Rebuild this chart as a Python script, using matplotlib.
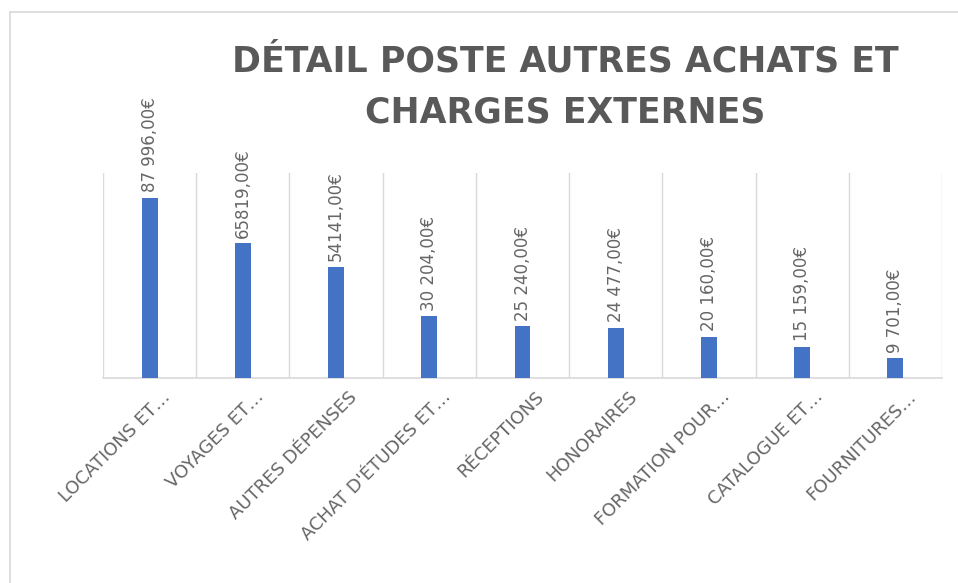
import matplotlib
matplotlib.use("Agg")
import matplotlib.pyplot as plt
from matplotlib.lines import Line2D
from matplotlib.transforms import ScaledTranslation

categories = ["LOCATIONS ET…", "VOYAGES ET…", "AUTRES DÉPENSES", "ACHAT D'ÉTUDES ET…",
              "RÉCEPTIONS", "HONORAIRES", "FORMATION POUR…", "CATALOGUE ET…", "FOURNITURES…"]
values = [87996, 65819, 54141, 30204, 25240, 24477, 20160, 15159, 9701]
value_labels = ["87 996,00€", "65819,00€", "54141,00€", "30 204,00€", "25 240,00€",
                "24 477,00€", "20 160,00€", "15 159,00€", "9 701,00€"]
title = "DÉTAIL POSTE AUTRES ACHATS ET\nCHARGES EXTERNES"

W, H = 958, 583
fig = plt.figure(figsize=(W / 100, H / 100), dpi=100)
fig.patch.set_facecolor("white")

# chart border (left and top visible)
fig.add_artist(Line2D([10 / W, 10 / W], [0, 1 - 12 / H], transform=fig.transFigure, color="#d9d9d9", lw=1.2))
fig.add_artist(Line2D([10 / W, 1.0], [1 - 12 / H, 1 - 12 / H], transform=fig.transFigure, color="#d9d9d9", lw=1.2))

left, right, top, bottom = 103, 942, 173, 378
ax = fig.add_axes([left / W, 1 - bottom / H, (right - left) / W, (bottom - top) / H])

x = list(range(len(categories)))
bars = ax.bar(x, values, width=0.17, color="#4472C4", zorder=3)
ax.set_xlim(-0.5, len(categories) - 0.5)
ax.set_ylim(0, 100000)

for s in ["top", "right", "left"]:
    ax.spines[s].set_visible(False)
ax.spines["bottom"].set_color("#d9d9d9")
ax.spines["bottom"].set_linewidth(1.2)

ax.set_xticks([i - 0.5 for i in range(len(categories) + 1)], minor=True)
ax.grid(which="minor", axis="x", color="#d9d9d9", lw=1.0, zorder=0)
ax.tick_params(axis="x", which="both", length=0)
ax.set_yticks([])
ax.set_xticks(x)
ax.set_xticklabels(categories, rotation=45, ha="right", va="top", rotation_mode="anchor",
                   fontsize=13, color="#666666", family="DejaVu Sans")
ax.tick_params(axis="x", pad=7)
shift = ScaledTranslation(12 / 100, 0, fig.dpi_scale_trans)
for lab in ax.get_xticklabels():
    lab.set_transform(lab.get_transform() + shift)

for b, lab in zip(bars, value_labels):
    ax.annotate(lab, (b.get_x() + b.get_width() / 2, b.get_height()), xytext=(0, 4),
                textcoords="offset points", rotation=90, ha="center", va="bottom",
                fontsize=12, color="#666666", family="DejaVu Sans")

fig.text(565 / W, 1 - 45 / H, title, ha="center", va="top", fontsize=25,
         fontweight="bold", color="#595959", family="DejaVu Sans", linespacing=1.6)

fig.savefig("out.png", dpi=100, facecolor="white")
